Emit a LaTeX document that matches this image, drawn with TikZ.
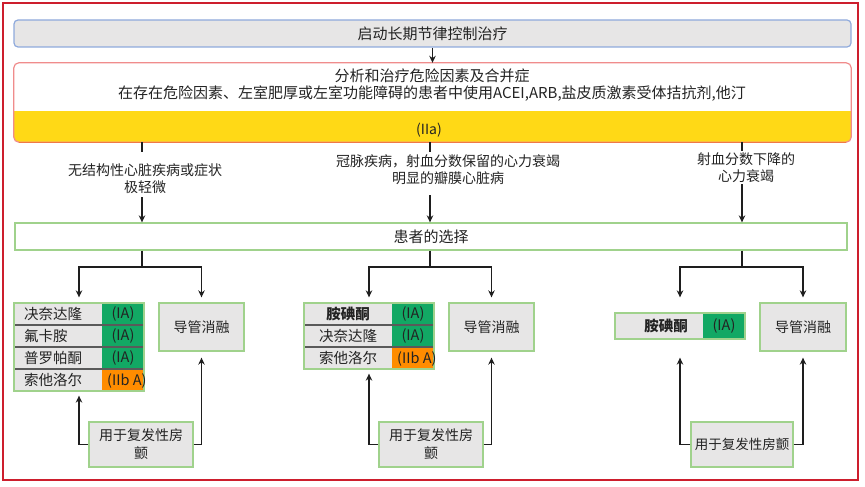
\documentclass[tikz,border=0pt]{standalone}
\usepackage{fontspec}
\setmainfont{Noto Sans CJK SC}
\usetikzlibrary{arrows.meta}
\definecolor{framec}{RGB}{205,30,45}
\definecolor{topb}{RGB}{143,170,220}
\definecolor{grayf}{RGB}{231,230,230}
\definecolor{pinkb}{RGB}{240,140,140}
\definecolor{yel}{RGB}{255,217,22}
\definecolor{yelb}{RGB}{240,120,70}
\definecolor{greenb}{RGB}{160,210,140}
\definecolor{greenf}{RGB}{18,168,100}
\definecolor{orangef}{RGB}{255,140,0}
\definecolor{linec}{RGB}{30,30,30}
\definecolor{txt}{RGB}{35,35,35}
\definecolor{rowl}{RGB}{90,90,90}
\begin{document}
\begin{tikzpicture}[x=1pt,y=-1pt,
  every node/.style={text=txt, inner sep=0pt},
  conn/.style={draw=linec, line width=1.8pt},
  arr/.style={conn, -{Stealth[length=7pt,width=6.5pt]}},
  gbox/.style={draw=greenb, line width=1.3pt, fill=grayf, align=center, font=\fontsize{14}{18}\selectfont},
  lab/.style={align=center, font=\fontsize{14}{17}\selectfont},
  cell/.style={font=\fontsize{14.5}{17}\selectfont},
  grade/.style={font=\fontsize{14.5}{17}\selectfont},
  rowline/.style={draw=rowl, line width=1.2pt}
]
\useasboundingbox (0,0) rectangle (865,487);
% outer frame
\draw[draw=framec, line width=2.2pt] (3,3) rectangle (858,480);

% top box
\node[draw=topb, fill=grayf, line width=1.2pt, rounded corners=4pt, minimum width=837pt, minimum height=27pt, font=\fontsize{15}{18}\selectfont] (top) at (432.5,33.5) {启动长期节律控制治疗};

% second box with yellow band
\node[fill=white, rounded corners=5pt, minimum width=837pt, minimum height=79pt] (second) at (432.5,102.5) {};
\begin{scope}
  \clip[rounded corners=5pt] (second.north west) rectangle (second.south east);
  \fill[yel] (14,111) rectangle (851,142);
\end{scope}
\draw[draw=pinkb, line width=1.2pt, rounded corners=5pt] (second.north west) rectangle (second.south east);
\draw[draw=yelb, line width=1.2pt] ([xshift=5pt]second.south west) -- ([xshift=-5pt]second.south east);
\node[align=center, font=\fontsize{15}{16.5}\selectfont] (risk) at (432,85) {分析和治疗危险因素及合并症\\在存在危险因素、左室肥厚或左室功能障碍的患者中使用ACEI,ARB,盐皮质激素受体拮抗剂,他汀};
\node[font=\fontsize{14}{17}\selectfont] (iia) at (429,130) {(IIa)};

\draw[arr] (top.south) -- (second.north);

% condition labels
\node[lab] (l1) at (145,179) {无结构性心脏疾病或症状\\极轻微};
\node[lab] (l2) at (448,169.5) {冠脉疾病，射血分数保留的心力衰竭\\明显的瓣膜心脏病};
\node[lab] (l3) at (746,168) {射血分数下降的\\心力衰竭};

% choice box
\node[draw=greenb, fill=white, line width=1.3pt, minimum width=832pt, minimum height=27pt, font=\fontsize{15}{18}\selectfont] (choice) at (431,236.5) {患者的选择};

\coordinate (s1) at (142,152);
\coordinate (s2) at (430,152);
\coordinate (s3) at (742,151);
\coordinate (b1) at (142,197);
\coordinate (b2) at (430,195);
\coordinate (b3) at (742,184);
\draw[conn] (s1 |- second.south) -- (s1);
\draw[conn] (s2 |- second.south) -- (s2);
\draw[conn] (s3 |- second.south) -- (s3);
\draw[arr] (b1) -- (b1 |- choice.north);
\draw[arr] (b2) -- (b2 |- choice.north);
\draw[arr] (b3) -- (b3 |- choice.north);

% ---------- left group ----------
\fill[grayf] (14,303) rectangle (102,391);
\fill[greenf] (102,303) rectangle (144,369);
\fill[orangef] (102,369) rectangle (144,391);
\draw[rowline] (14,325) -- (144,325);
\draw[rowline] (14,347) -- (144,347);
\draw[rowline] (14,369) -- (144,369);
\node[draw=greenb, line width=1.3pt, minimum width=130pt, minimum height=88pt] (list1) at (79,347) {};
\node[cell, anchor=west] (n11) at (24,314) {决奈达隆};
\node[cell, anchor=west] (n12) at (24,336) {氟卡胺};
\node[cell, anchor=west] (n13) at (24,358) {普罗帕酮};
\node[cell, anchor=west] (n14) at (24,380) {索他洛尔};
\node[grade] (g11) at (123,314) {(IA)};
\node[grade] (g12) at (123,336) {(IA)};
\node[grade] (g13) at (123,358) {(IA)};
\node[grade, anchor=west] (g14) at (107,381) {(IIb A)};
\node[gbox, minimum width=85pt, minimum height=48pt] (abl1) at (201.5,327) {导管消融};
\node[gbox, minimum width=104pt, minimum height=45pt] (rec1) at (141,444.5) {用于复发性房\\颤};

\coordinate (j1) at (142,267);
\draw[conn] (choice.south -| j1) -- (j1);
\draw[arr, shorten >=5pt] (j1) -| (list1.north);
\draw[arr, shorten >=5pt] (j1) -| (abl1.north);
\draw[arr, shorten >=4pt] (rec1.west) -| (list1.south);
\draw[arr, shorten >=6pt] (rec1.east) -| (abl1.south);

% ---------- middle group ----------
\fill[grayf] (304,303) rectangle (392,369);
\fill[greenf] (392,303) rectangle (434,347);
\fill[orangef] (392,347) rectangle (434,369);
\draw[rowline] (304,325) -- (434,325);
\draw[rowline] (304,347) -- (434,347);
\node[draw=greenb, line width=1.3pt, minimum width=130pt, minimum height=66pt] (list2) at (369,336) {};
\node[cell, font=\fontsize{14.5}{17}\selectfont\bfseries] (n21) at (348,314) {胺碘酮};
\node[cell] (n22) at (348,336) {决奈达隆};
\node[cell] (n23) at (348,358) {索他洛尔};
\node[grade] (g21) at (413,314) {(IA)};
\node[grade] (g22) at (413,336) {(IA)};
\node[grade, anchor=west] (g23) at (397,359) {(IIb A)};
\node[gbox, minimum width=85pt, minimum height=48pt] (abl2) at (491.5,327) {导管消融};
\node[gbox, minimum width=104pt, minimum height=45pt] (rec2) at (431,444.5) {用于复发性房\\颤};

\coordinate (j2) at (430,267);
\draw[conn] (choice.south -| j2) -- (j2);
\draw[arr, shorten >=5pt] (j2) -| (list2.north);
\draw[arr, shorten >=5pt] (j2) -| (abl2.north);
\draw[arr, shorten >=4pt] (rec2.west) -| (list2.south);
\draw[arr, shorten >=6pt] (rec2.east) -| (abl2.south);

% ---------- right group ----------
\fill[grayf] (615,313) rectangle (703,339);
\fill[greenf] (703,313) rectangle (745,339);
\node[draw=greenb, line width=1.3pt, minimum width=130pt, minimum height=26pt] (amio) at (680,326) {};
\node[cell, font=\fontsize{14.5}{17}\selectfont\bfseries] (n31) at (666,326) {胺碘酮};
\node[grade] (g31) at (724,326) {(IA)};
\node[gbox, minimum width=86pt, minimum height=48pt] (abl3) at (803,327) {导管消融};
\node[gbox, minimum width=102pt, minimum height=45pt, font=\fontsize{13.5}{17}\selectfont] (rec3) at (742,444.5) {用于复发性房颤};

\coordinate (j3) at (742,267);
\draw[conn] (choice.south -| j3) -- (j3);
\draw[arr, shorten >=15pt] (j3) -| (amio.north);
\draw[arr, shorten >=5pt] (j3) -| (abl3.north);
\draw[arr, shorten >=18pt] (rec3.west) -| (amio.south);
\draw[arr, shorten >=6pt] (rec3.east) -| (abl3.south);
\end{tikzpicture}
\end{document}
